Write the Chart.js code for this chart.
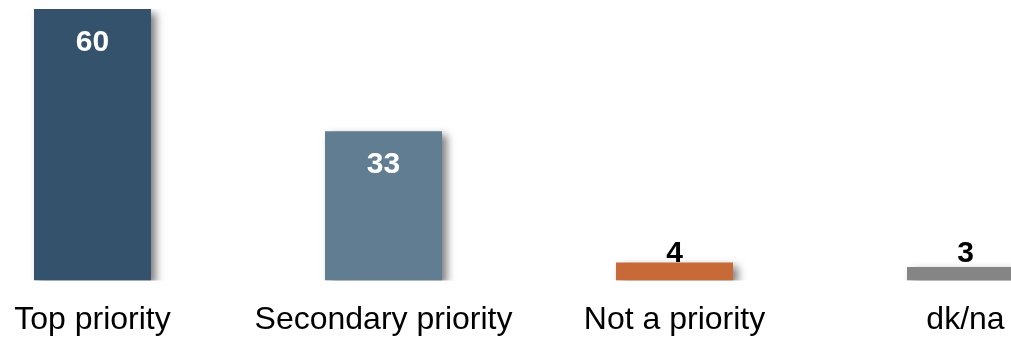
<!DOCTYPE html>
<html>
<head>
<meta charset="utf-8">
<script src="https://cdn.jsdelivr.net/npm/chart.js@4/dist/chart.umd.min.js"></script>
<style>
  html, body { margin: 0; padding: 0; background: #fff; overflow: hidden; width: 1011px; height: 337px; }
  #wrap { position: absolute; left: -53px; top: 0; width: 1164px; height: 357px; }
</style>
</head>
<body>
<div id="wrap"><canvas id="priorityChart" width="1164" height="357"></canvas></div>
<script>
// Chart data
const categories = ['Top priority', 'Secondary priority', 'Not a priority', 'dk/na'];
const values = [60, 33, 4, 3];
const barColors = ['#34526b', '#607d92', '#c86a38', '#858585'];
// bars that carry their value inside (white) vs above (black)
const insideLabel = [true, true, false, false];

const FONT = '"Liberation Sans", Arial, Helvetica, sans-serif';

// Soft drop shadow behind the bars
const barShadow = {
  id: 'barShadow',
  beforeDatasetsDraw(chart) {
    const ctx = chart.ctx;
    ctx.save();
    ctx.shadowColor = 'rgba(0, 0, 0, 0.5)';
    ctx.shadowBlur = 8;
    ctx.shadowOffsetX = 5;
    ctx.shadowOffsetY = 4;
  },
  afterDatasetsDraw(chart) {
    chart.ctx.restore();
  }
};

// Value labels on / above the bars
const valueLabels = {
  id: 'valueLabels',
  afterDraw(chart) {
    const ctx = chart.ctx;
    const yScale = chart.scales.y;
    const meta = chart.getDatasetMeta(0);
    ctx.save();
    ctx.font = 'bold 30px ' + FONT;
    ctx.textAlign = 'center';
    ctx.textBaseline = 'alphabetic';
    meta.data.forEach((bar, i) => {
      const { x, y } = bar.getProps(['x', 'y'], true);
      if (insideLabel[i]) {
        ctx.fillStyle = '#ffffff';
        ctx.fillText(values[i], x, y + 42);
      } else {
        // small bars share a common minimum label height
        const labelY = Math.min(y, yScale.getPixelForValue(4));
        ctx.fillStyle = '#000000';
        ctx.fillText(values[i], x, labelY - 0.5);
      }
    });
    ctx.restore();
  }
};

const ctx = document.getElementById('priorityChart');
window.priorityChart = new Chart(ctx, {
  type: 'bar',
  data: {
    labels: categories,
    datasets: [{
      data: values,
      backgroundColor: barColors,
      borderWidth: 0,
      barPercentage: 0.402,
      categoryPercentage: 1
    }]
  },
  options: {
    responsive: false,
    animation: false,
    events: [],
    layout: { padding: { top: 9, left: 0, right: 0, bottom: 6 } },
    plugins: {
      legend: { display: false },
      tooltip: { enabled: false }
    },
    scales: {
      x: {
        grid: { display: false },
        border: { display: false },
        ticks: {
          color: '#000000',
          font: { family: FONT, size: 32 },
          padding: 12,
          maxRotation: 0,
          autoSkip: false
        }
      },
      y: {
        display: false,
        min: 0,
        max: 60
      }
    }
  },
  plugins: [barShadow, valueLabels]
});
</script>
</body>
</html>
